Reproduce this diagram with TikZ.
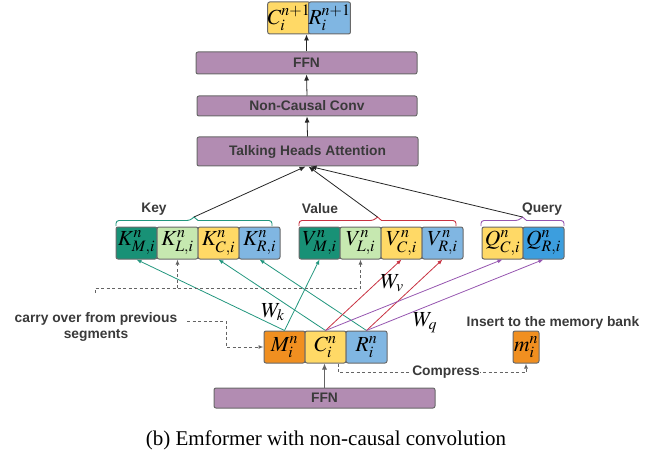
\documentclass[tikz,border=0pt]{standalone}
\usepackage{mathptmx}
\usepackage[no-math]{fontspec}
\setmainfont{Liberation Sans}
\newfontfamily\capfont{Liberation Serif}
\usetikzlibrary{arrows.meta}
\definecolor{layerfill}{RGB}{178,140,178}
\definecolor{boxborder}{RGB}{105,105,105}
\definecolor{txt}{RGB}{58,58,58}
\definecolor{tealdk}{RGB}{24,145,118}
\definecolor{lgreen}{RGB}{198,232,176}
\definecolor{yel}{RGB}{255,217,102}
\definecolor{lblue}{RGB}{128,182,226}
\definecolor{qblue}{RGB}{60,158,222}
\definecolor{orng}{RGB}{240,143,32}
\definecolor{tealln}{RGB}{34,150,126}
\definecolor{redln}{RGB}{200,50,66}
\definecolor{purln}{RGB}{150,86,176}
\definecolor{dashc}{RGB}{100,100,100}
\newcommand\lblfont{\fontsize{13.8}{15.5}\selectfont\bfseries}
\newcommand\mthfont{\fontsize{21.5}{23}\selectfont}
\tikzset{
  blk/.style={draw=boxborder, line width=1pt, rounded corners=2pt, minimum height=32pt, inner sep=0pt, font=\mthfont, text=black},
  layer/.style={draw=boxborder, fill=layerfill, line width=1pt, rounded corners=2pt, inner sep=0pt, font=\lblfont, text=txt},
  lbltext/.style={font=\lblfont, text=txt, inner sep=1pt},
  wlabel/.style={font=\mthfont, text=black, inner sep=0pt},
  blackarrow/.style={draw=black!85, line width=0.8pt, -{Latex[length=6pt,width=5pt]}},
  tealarrow/.style={draw=tealln, line width=0.8pt, -{Latex[length=5pt,width=4pt]}},
  redarrow/.style={draw=redln, line width=0.8pt, -{Latex[length=5pt,width=4pt]}},
  purarrow/.style={draw=purln, line width=0.8pt, -{Latex[length=5pt,width=4pt]}},
  dashline/.style={draw=dashc, line width=1pt, dash pattern=on 3pt off 2.5pt},
  dasharrow/.style={dashline, -{Latex[length=5pt,width=4pt]}},
  bracel/.style={line width=0.9pt, rounded corners=3pt},
}
\begin{document}
\begin{tikzpicture}[x=1pt,y=-1pt]
\useasboundingbox (0,0) rectangle (661,457);

% top output
\node[blk, fill=yel, minimum width=40pt] (cn1) at (289,18) {$C_i^{n+1}$};
\node[blk, fill=lblue, minimum width=41pt] (rn1) at (329.5,18) {$R_i^{n+1}$};

% layers
\node[layer, minimum width=221pt, minimum height=22pt] (ffnt) at (306.5,63) {FFN};
\node[layer, minimum width=220pt, minimum height=20pt] (ncc) at (307,106) {Non-Causal Conv};
\node[layer, minimum width=221pt, minimum height=29pt] (tha) at (307.5,151.5) {Talking Heads Attention};

\draw[blackarrow] (tha.north) -- (ncc.south);
\draw[blackarrow] (ncc.north) -- (ffnt.south);
\draw[blackarrow] (ffnt.north) -- (ffnt.north |- cn1.south);

% key boxes
\node[blk, fill=tealdk, minimum width=41pt] (km) at (136.5,243) {$K^n_{M,i}$};
\node[blk, fill=lgreen, minimum width=41pt] (kl) at (177.5,243) {$K^n_{L,i}$};
\node[blk, fill=yel, minimum width=41pt] (kc) at (218.5,243) {$K^n_{C,i}$};
\node[blk, fill=lblue, minimum width=41pt] (kr) at (259.5,243) {$K^n_{R,i}$};
% value boxes
\node[blk, fill=tealdk, minimum width=41pt] (vm) at (319.5,243) {$V^n_{M,i}$};
\node[blk, fill=lgreen, minimum width=41pt] (vl) at (360.5,243) {$V^n_{L,i}$};
\node[blk, fill=yel, minimum width=41pt] (vc) at (401.5,243) {$V^n_{C,i}$};
\node[blk, fill=lblue, minimum width=41pt] (vr) at (442.5,243) {$V^n_{R,i}$};
% query boxes
\node[blk, fill=yel, minimum width=41pt] (qc) at (502.5,243) {$Q^n_{C,i}$};
\node[blk, fill=qblue, minimum width=41pt] (qr) at (543.5,243) {$Q^n_{R,i}$};

% group labels
\node[lbltext] (keyl) at (154,209) {Key};
\node[lbltext] (vall) at (320,209) {Value};
\node[lbltext] (qryl) at (542,209) {Query};

% braces
\coordinate (keytip) at (194,217);
\coordinate (valtip) at (377.5,217);
\coordinate (qrytip) at (522.5,217);
\draw[bracel, draw=tealln] (116,226) -- (116,220.5) -- (190,220.5) [sharp corners] -- (keytip) -- (198,220.5) [rounded corners=3pt] -- (272,220.5) -- (272,226);
\draw[bracel, draw=redln] (299,226) -- (299,220.5) -- (373.5,220.5) [sharp corners] -- (valtip) -- (381.5,220.5) [rounded corners=3pt] -- (456,220.5) -- (456,226);
\draw[bracel, draw=purln] (481,226) -- (481,220.5) -- (518.5,220.5) [sharp corners] -- (qrytip) -- (526.5,220.5) [rounded corners=3pt] -- (564,220.5) -- (564,226);

\draw[blackarrow] (keytip) -- ([xshift=-2pt]tha.south);
\draw[blackarrow] (valtip) -- ([xshift=1pt]tha.south);
\draw[blackarrow] (qrytip) -- ([xshift=3pt]tha.south);

% input boxes
\node[blk, fill=orng, minimum width=41pt] (min) at (284.5,347) {$M_i^n$};
\node[blk, fill=yel, minimum width=41pt] (cin) at (325.5,347) {$C_i^n$};
\node[blk, fill=lblue, minimum width=41pt] (rin) at (366.5,347) {$R_i^n$};
\node[blk, fill=orng, minimum width=26pt] (mm) at (526,347) {$m_i^n$};
\node[layer, minimum width=221pt, minimum height=20pt] (ffnb) at (324.5,398) {FFN};

\draw[blackarrow, draw=dashc] (ffnb.north) -- (ffnb.north |- cin.south);

% projections
\draw[tealarrow] (min.north) -- (km.south);
\draw[tealarrow] (min.north) -- (vm.south);
\draw[tealarrow] (cin.north) -- (kc.south);
\draw[tealarrow] (rin.north) -- (kr.south);
\draw[redarrow] (cin.north) -- (vc.south);
\draw[redarrow] (rin.north) -- (vr.south);
\draw[purarrow] (cin.north) -- (qc.south);
\draw[purarrow] (rin.north) -- (qr.south);

\node[wlabel] (wk) at (273,312) {$W_k$};
\node[wlabel] (wv) at (392,283) {$W_v$};
\node[wlabel] (wq) at (425,323) {$W_q$};

% memory dashed bus
\coordinate (memstart) at (95,293);
\coordinate (bus) at (95,288);
\draw[dasharrow] (memstart) -- (bus) -| (vl.south);
\draw[dasharrow] (kl.south |- bus) -- (kl.south);

% carry over
\node[lbltext, align=center] (carry) at (96,327) {carry over from previous\\segments};
\coordinate (carrystart) at (187,321);
\draw[dasharrow] (carrystart) -- ++(39,0) |- (min.west);

% compress
\draw[dasharrow] ([xshift=12.5pt]cin.south) -- ++(0,9) -| (mm.south);
\node[lbltext, fill=white, inner sep=0.5pt] (comp) at (446,372) {Compress};
\node[lbltext] (ins) at (553,323) {Insert to the memory bank};

% caption
\node[font=\capfont\fontsize{21}{24}\selectfont, inner sep=0pt] (cap) at (326,440) {(b) Emformer with non-causal convolution};
\end{tikzpicture}
\end{document}
